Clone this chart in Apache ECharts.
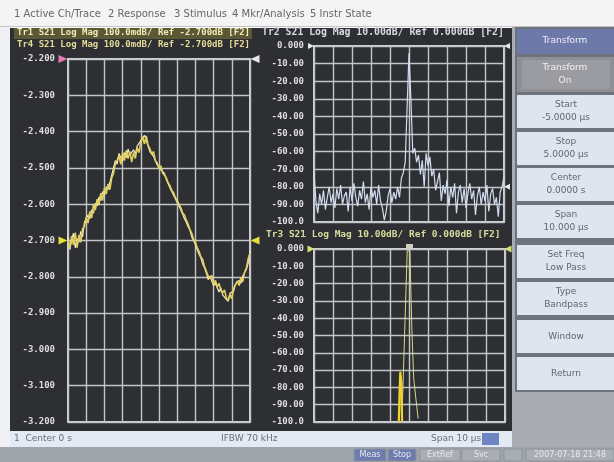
<!DOCTYPE html>
<html>
<head>
<meta charset="utf-8">
<script src="https://cdn.jsdelivr.net/npm/echarts@6/dist/echarts.min.js"></script>
<style>
  html, body { margin: 0; padding: 0; background: #ffffff; }
  #main { width: 614px; height: 462px; }
</style>
</head>
<body>
<div id="main"></div>
<script>
// ---- Channel 1, left window: Tr1 S21 log magnitude (dB), 101 sweep points ----
const tr1Mag = [
  -2.700, -2.722, -2.688, -2.712, -2.678, -2.720, -2.685, -2.705, -2.668, -2.662,
  -2.636, -2.652, -2.620, -2.638, -2.600, -2.616, -2.586, -2.602, -2.570, -2.590,
  -2.556, -2.572, -2.544, -2.560, -2.528, -2.515, -2.488, -2.480, -2.466, -2.490,
  -2.458, -2.480, -2.452, -2.474, -2.455, -2.484, -2.458, -2.474, -2.444, -2.458,
  -2.430, -2.414, -2.434, -2.412, -2.438, -2.447, -2.462, -2.455, -2.480, -2.486,
  -2.502, -2.494, -2.514, -2.520, -2.527, -2.541, -2.549, -2.562, -2.568, -2.582,
  -2.590, -2.600, -2.610, -2.624, -2.630, -2.644, -2.655, -2.670, -2.680, -2.697,
  -2.705, -2.720, -2.730, -2.745, -2.752, -2.772, -2.785, -2.798, -2.805, -2.796,
  -2.820, -2.810, -2.828, -2.818, -2.838, -2.844, -2.836, -2.858, -2.866, -2.848,
  -2.860, -2.832, -2.830, -2.812, -2.824, -2.802, -2.814, -2.788, -2.776, -2.750,
  -2.735
];
// Tr4 (memory trace) on the same scale
const tr4Mag = [
  -2.690, -2.725, -2.700, -2.680, -2.720, -2.695, -2.705, -2.675, -2.690, -2.650,
  -2.655, -2.630, -2.640, -2.615, -2.625, -2.598, -2.605, -2.580, -2.590, -2.565,
  -2.575, -2.552, -2.560, -2.540, -2.520, -2.500, -2.480, -2.490, -2.460, -2.472,
  -2.480, -2.458, -2.472, -2.448, -2.465, -2.470, -2.450, -2.462, -2.440, -2.445,
  -2.425, -2.428, -2.410, -2.425, -2.430, -2.455, -2.450, -2.468, -2.470, -2.492,
  -2.490, -2.505, -2.505, -2.515, -2.532, -2.535, -2.555, -2.552, -2.575, -2.572,
  -2.595, -2.605, -2.602, -2.628, -2.640, -2.650, -2.662, -2.672, -2.690, -2.700,
  -2.712, -2.725, -2.738, -2.748, -2.765, -2.775, -2.790, -2.808, -2.798, -2.812,
  -2.825, -2.818, -2.830, -2.842, -2.830, -2.850, -2.848, -2.862, -2.868, -2.845,
  -2.848, -2.840, -2.820, -2.822, -2.810, -2.818, -2.798, -2.800, -2.780, -2.762,
  -2.728
];

// ---- Tr2: transformed response (dB) over time, -5 us .. 5 us, 101 points ----
const tr2Mag = [
  -72, -88, -95, -84, -90, -82, -93, -86, -80, -89,
  -84, -92, -81, -87, -79, -90, -85, -83, -94, -80,
  -88, -78, -86, -91, -82, -87, -77, -89, -84, -93,
  -80, -86, -82, -90, -79, -88, -92, -99, -94, -85,
  -81, -89, -83, -87, -80, -86, -75, -72, -66, -35,
  -4, -30, -61, -58, -66, -62, -73, -65, -80, -61,
  -68, -63, -74, -70, -82, -77, -72, -88, -79, -84,
  -76, -91, -80, -86, -78, -95, -83, -79, -89, -81,
  -92, -84, -78, -87, -82, -96, -85, -80, -90, -83,
  -88, -79, -94, -84, -81, -90, -86, -97, -83, -80,
  -74
];

// ---- Tr3: gated response, visible segments only (time us, dB) ----
const tr3GateTime = [-0.56, -0.52, -0.48, -0.45, -0.42, -0.39];
const tr3GateMag  = [-100, -82, -71, -72, -78, -100];
const tr3MainTime = [-0.40, -0.12, -0.04, 0.02, 0.12, 0.22, 0.45];
const tr3MainMag  = [-100, -1, 0, -1, -45, -75, -98];

// Axis tick labels
const leftTicks  = [-2.2, -2.3, -2.4, -2.5, -2.6, -2.7, -2.8, -2.9, -3.0, -3.1, -3.2];
const rightTicks = [0, -10, -20, -30, -40, -50, -60, -70, -80, -90, -100];

// Header / status texts
const menuItems = ['1 Active Ch/Trace', '2 Response', '3 Stimulus', '4 Mkr/Analysis', '5 Instr State'];
const menuX = [14, 108, 174, 232, 310];
const softkeys = [
  ['Start', '-5.0000 \u00b5s'],
  ['Stop', '5.0000 \u00b5s'],
  ['Center', '0.0000 s'],
  ['Span', '10.000 \u00b5s'],
  ['Set Freq', 'Low Pass'],
  ['Type', 'Bandpass'],
  ['Window', ''],
  ['Return', '']
];

// Sweep stimulus positions
const sweepIndex = tr1Mag.map((_, i) => i);
const timeUs = tr2Mag.map((_, i) => +(-5 + i * 0.1).toFixed(2));

const MONO = '"DejaVu Sans Mono", "Liberation Mono", monospace';
const GRID_LINE = '#c3c6c9';

function fmtLeft(v) { return v.toFixed(3); }
function fmtRight(v) {
  if (Math.abs(v) < 1e-9) return '0.000';
  if (v <= -100) return '-100.0';
  return v.toFixed(2);
}

function yAxisFor(gridIndex, min, max, interval, fmt, margin) {
  return {
    type: 'value', gridIndex, min, max, interval,
    axisLine: { show: false },
    axisTick: { show: false },
    splitLine: { show: true, lineStyle: { color: GRID_LINE, width: 1.4 } },
    axisLabel: {
      color: '#dedede', fontFamily: MONO, fontSize: 9, fontWeight: 'bold',
      margin, formatter: fmt
    }
  };
}
function xAxisFor(gridIndex, min, max, interval) {
  return {
    type: 'value', gridIndex, min, max, interval,
    axisLine: { show: false }, axisTick: { show: false },
    axisLabel: { show: false },
    splitLine: { show: true, lineStyle: { color: GRID_LINE, width: 1.4 } }
  };
}
function tri(coord, color, rot, off, size) {
  return {
    coord, symbol: 'triangle', symbolRotate: rot,
    symbolSize: size || [8, 9], symbolOffset: off,
    itemStyle: { color }, label: { show: false }
  };
}

// Background panels and texts
const g = [];
g.push({ type: 'rect', z: -10, shape: { x: 0, y: 0, width: 614, height: 27 }, style: { fill: '#f4f4f4' } });
g.push({ type: 'rect', z: -10, shape: { x: 0, y: 26, width: 614, height: 1 }, style: { fill: '#c4c4c4' } });
g.push({ type: 'rect', z: -10, shape: { x: 0, y: 27, width: 11, height: 420 }, style: { fill: '#eef0f3' } });
g.push({ type: 'rect', z: -10, shape: { x: 10, y: 28, width: 502, height: 403 }, style: { fill: '#2d2f32' } });
g.push({ type: 'rect', z: -9, shape: { x: 14, y: 28, width: 238, height: 11 }, style: { fill: '#5c5836' } });
g.push({ type: 'rect', z: -10, shape: { x: 10, y: 431, width: 502, height: 16 }, style: { fill: '#e3eaf3' } });
g.push({ type: 'rect', z: -10, shape: { x: 0, y: 447, width: 614, height: 15 }, style: { fill: '#a0a5ac' } });
g.push({ type: 'rect', z: -10, shape: { x: 512, y: 27, width: 102, height: 420 }, style: { fill: '#a9adb3' } });
g.push({ type: 'rect', z: -10, shape: { x: 515, y: 27, width: 99, height: 365 }, style: { fill: '#6f747c' } });

menuItems.forEach((t, i) => {
  g.push({ type: 'text', x: menuX[i], y: 14, style: { text: t, fill: '#666666', font: '10px "DejaVu Sans"', textVerticalAlign: 'middle' } });
});

// Trace headers
g.push({ type: 'text', x: 17, y: 33, style: { text: 'Tr1 S21 Log Mag 100.0mdB/ Ref -2.700dB [F2]', fill: '#f0eab4', font: 'bold 9px ' + MONO, textVerticalAlign: 'middle' } });
g.push({ type: 'text', x: 17, y: 45, style: { text: 'Tr4 S21 Log Mag 100.0mdB/ Ref -2.700dB [F2]', fill: '#e4db96', font: 'bold 9px ' + MONO, textVerticalAlign: 'middle' } });
g.push({ type: 'text', x: 262, y: 32, style: { text: 'Tr2 S21 Log Mag 10.00dB/ Ref 0.000dB [F2]', fill: '#d6dae0', font: 'bold 9.8px ' + MONO, textVerticalAlign: 'middle' } });
g.push({ type: 'text', x: 266, y: 235, style: { text: 'Tr3 S21 Log Mag 10.00dB/ Ref 0.000dB [F2]', fill: '#d8dc9c', font: 'bold 9.5px ' + MONO, textVerticalAlign: 'middle' } });

// Softkey menu
g.push({ type: 'rect', z: -9, shape: { x: 517, y: 29, width: 97, height: 25 }, style: { fill: '#6d79a8' } });
g.push({ type: 'text', x: 565, y: 41, style: { text: 'Transform', fill: '#eef0f8', font: '9px "DejaVu Sans"', textAlign: 'center', textVerticalAlign: 'middle' } });
g.push({ type: 'rect', z: -9, shape: { x: 517, y: 57, width: 97, height: 35 }, style: { fill: '#8d8f94' } });
g.push({ type: 'rect', z: -9, shape: { x: 522, y: 60, width: 88, height: 29 }, style: { fill: '#9a9ca1' } });
g.push({ type: 'text', x: 565, y: 68, style: { text: 'Transform', fill: '#f2f2f2', font: '9px "DejaVu Sans"', textAlign: 'center', textVerticalAlign: 'middle' } });
g.push({ type: 'text', x: 565, y: 81, style: { text: 'On', fill: '#f2f2f2', font: '9px "DejaVu Sans"', textAlign: 'center', textVerticalAlign: 'middle' } });
const keyTop = [95, 132, 168, 205, 245, 282, 320, 357];
softkeys.forEach((k, i) => {
  const y0 = keyTop[i];
  g.push({ type: 'rect', z: -9, shape: { x: 517, y: y0, width: 97, height: 33 }, style: { fill: '#dfe5ee' } });
  if (k[1]) {
    g.push({ type: 'text', x: 566, y: y0 + 10, style: { text: k[0], fill: '#62666c', font: '9px "DejaVu Sans"', textAlign: 'center', textVerticalAlign: 'middle' } });
    g.push({ type: 'text', x: 566, y: y0 + 23, style: { text: k[1], fill: '#62666c', font: '9px "DejaVu Sans"', textAlign: 'center', textVerticalAlign: 'middle' } });
  } else {
    g.push({ type: 'text', x: 566, y: y0 + 17, style: { text: k[0], fill: '#62666c', font: '9px "DejaVu Sans"', textAlign: 'center', textVerticalAlign: 'middle' } });
  }
});

// Status lines
g.push({ type: 'text', x: 14, y: 439, style: { text: '1  Center 0 s', fill: '#6a6e76', font: '9px "DejaVu Sans"', textVerticalAlign: 'middle' } });
g.push({ type: 'text', x: 221, y: 439, style: { text: 'IFBW 70 kHz', fill: '#6a6e76', font: '9px "DejaVu Sans"', textVerticalAlign: 'middle' } });
g.push({ type: 'text', x: 431, y: 439, style: { text: 'Span 10 \u00b5s', fill: '#6a6e76', font: '9px "DejaVu Sans"', textVerticalAlign: 'middle' } });
g.push({ type: 'rect', z: -9, shape: { x: 482, y: 433, width: 17, height: 12 }, style: { fill: '#6f84c4' } });
const statusBoxes = [
  [354, 32, '#6c7cae', 'Meas'], [388, 28, '#6c7cae', 'Stop'], [420, 40, '#a9aeb5', 'ExtRef'],
  [462, 38, '#a9aeb5', 'Svc'], [504, 18, '#a9aeb5', ''], [526, 88, '#a9aeb5', '2007-07-18 21:48']
];
statusBoxes.forEach(b => {
  g.push({ type: 'rect', z: -9, shape: { x: b[0], y: 449, width: b[1], height: 12 }, style: { fill: b[2], stroke: '#8e939a', lineWidth: 1 } });
  if (b[3]) g.push({ type: 'text', x: b[0] + b[1] / 2, y: 455, style: { text: b[3], fill: '#e6e9ee', font: '8px "DejaVu Sans"', textAlign: 'center', textVerticalAlign: 'middle' } });
});

const option = {
  backgroundColor: 'transparent',
  animation: false,
  graphic: { elements: g },
  grid: [
    { left: 68, top: 59, width: 182, height: 363, show: true, borderColor: '#d0d2d4', borderWidth: 2, backgroundColor: 'transparent' },
    { left: 314, top: 46, width: 190, height: 176, show: true, borderColor: '#d0d2d4', borderWidth: 2, backgroundColor: 'transparent' },
    { left: 314, top: 249, width: 191, height: 173, show: true, borderColor: '#d0d2d4', borderWidth: 2, backgroundColor: 'transparent' }
  ],
  xAxis: [
    xAxisFor(0, 0, 100, 10),
    xAxisFor(1, -5, 5, 1),
    xAxisFor(2, -5, 5, 1)
  ],
  yAxis: [
    yAxisFor(0, leftTicks[leftTicks.length - 1], leftTicks[0], 0.1, fmtLeft, 13),
    yAxisFor(1, rightTicks[rightTicks.length - 1], rightTicks[0], 10, fmtRight, 10),
    yAxisFor(2, rightTicks[rightTicks.length - 1], rightTicks[0], 10, fmtRight, 10)
  ],
  series: [
    {
      name: 'Tr4', type: 'line', xAxisIndex: 0, yAxisIndex: 0, symbol: 'none',
      data: tr4Mag.map((v, i) => [sweepIndex[i], v]),
      lineStyle: { color: '#f2eccc', width: 1.2 }
    },
    {
      name: 'Tr1', type: 'line', xAxisIndex: 0, yAxisIndex: 0, symbol: 'none',
      data: tr1Mag.map((v, i) => [sweepIndex[i], v]),
      lineStyle: { color: '#e2d05e', width: 1.6 },
      markPoint: {
        data: [
          tri([0, -2.2], '#e87ab8', -90, [-5, 0]),
          tri([100, -2.2], '#e8e8e8', 90, [5, 0]),
          tri([0, -2.7], '#e6dc3c', -90, [-5, 0]),
          tri([100, -2.7], '#e6dc3c', 90, [5, 0])
        ]
      }
    },
    {
      name: 'Tr2', type: 'line', xAxisIndex: 1, yAxisIndex: 1, symbol: 'none',
      data: tr2Mag.map((v, i) => [timeUs[i], v]),
      lineStyle: { color: '#d2dcf0', width: 1.2 },
      markPoint: {
        data: [
          tri([-5, 0], '#e8e8e8', -90, [-3, 0], [6, 6]),
          tri([5, 0], '#e8e8e8', 90, [3, 0], [6, 6]),
          tri([5, -80], '#e8e8e8', 90, [3, 0], [6, 6])
        ]
      }
    },
    {
      name: 'Tr3', type: 'line', xAxisIndex: 2, yAxisIndex: 2, symbol: 'none',
      data: tr3MainTime.map((t, i) => [t, tr3MainMag[i]]),
      lineStyle: { color: '#d4dc8c', width: 1 },
      markPoint: {
        data: [
          tri([-5, 0], '#d8e07a', -90, [-3, 0], [7, 7]),
          tri([5, 0], '#d8e07a', 90, [3, 0], [7, 7]),
          { coord: [0, 0], symbol: 'rect', symbolSize: [7, 4], symbolOffset: [0, -3], itemStyle: { color: '#d0d0c0' }, label: { show: false } }
        ]
      }
    },
    {
      name: 'Tr3 gate', type: 'line', xAxisIndex: 2, yAxisIndex: 2, symbol: 'none',
      data: tr3GateTime.map((t, i) => [t, tr3GateMag[i]]),
      lineStyle: { color: '#ecd232', width: 2.2 }
    }
  ]
};

const chart = echarts.init(document.getElementById('main'), null, { renderer: 'canvas' });
chart.setOption(option);
</script>
</body>
</html>
